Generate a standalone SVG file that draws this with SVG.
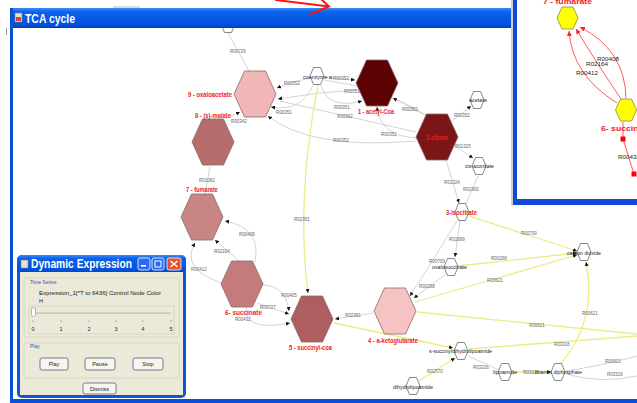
<svg xmlns="http://www.w3.org/2000/svg" width="637" height="403" viewBox="0 0 637 403">
  <defs>
    <style>
      .e{fill:none;stroke:#c9c9c9;stroke-width:.8}
      .y{fill:none;stroke:#eeeb86;stroke-width:1.3}
      .big{stroke:#8a6a6a;stroke-width:.8}
      .sm{fill:#fff;stroke:#555;stroke-width:.7}
      .nl{font-family:"Liberation Sans",Arial,sans-serif;font-weight:bold;font-size:8px;fill:#ee1c1c}
      .ml{font-family:"Liberation Sans",Arial,sans-serif;font-size:5.5px;fill:#222}
      .rl{font-family:"Liberation Sans",Arial,sans-serif;font-size:4.5px;fill:#666;text-anchor:middle}
      .il{font-family:"Liberation Sans",Arial,sans-serif;font-size:6px;fill:#222}
      .wt{font-family:"Liberation Sans",Arial,sans-serif;font-weight:bold;fill:#fff}
      .ui{font-family:"Liberation Sans",Arial,sans-serif;font-size:5.5px;fill:#222}
      .cap{font-family:"Liberation Sans",Arial,sans-serif;font-size:5px;fill:#3355bb}
      .grp{fill:none;stroke:#d3d0bd;stroke-width:.8}
      .btn{fill:#f6f5ef;stroke:#3c4f7c;stroke-width:.7}
      .rc{fill:none;stroke:#ff4848;stroke-width:.9}
    </style>
    <linearGradient id="tb" x1="0" y1="0" x2="0" y2="1">
      <stop offset="0" stop-color="#3d8af7"/>
      <stop offset=".2" stop-color="#0a61ea"/>
      <stop offset=".8" stop-color="#0053e0"/>
      <stop offset="1" stop-color="#0340b5"/>
    </linearGradient>
    <polygon id="hx" points="-10.5,-23 10.5,-23 21,0 10.5,23 -10.5,23 -21,0"/>
    <polygon id="hs" points="-3.5,-8.5 3.5,-8.5 7,0 3.5,8.5 -3.5,8.5 -7,0"/>
    <polygon id="hy" points="-5.5,-11 5.5,-11 10.5,0 5.5,11 -5.5,11 -10.5,0"/>
    <marker id="ar" viewBox="0 0 6 6" refX="6" refY="3" markerWidth="4" markerHeight="4" orient="auto" markerUnits="userSpaceOnUse">
      <path d="M0,0L6,3L0,6z" fill="#111"/>
    </marker>
    <marker id="rar" viewBox="0 0 6 6" refX="6" refY="3" markerWidth="5" markerHeight="5" orient="auto" markerUnits="userSpaceOnUse">
      <path d="M0,0L6,3L0,6z" fill="#ff2020"/>
    </marker>
    <clipPath id="cv"><rect x="13" y="27" width="624" height="372"/></clipPath>
    <clipPath id="ic"><rect x="517" y="0" width="120" height="199"/></clipPath>
  </defs>

  <!-- page background -->
  <rect width="637" height="403" fill="#fff"/>
  <rect x="113" y="6" width="27" height="2" fill="#d6dbe6"/>
  <rect x="6" y="28" width="1" height="7" fill="#999"/>

  <!-- TCA cycle network -->
  <g clip-path="url(#cv)">
    <g id="connectors">
      <!-- gray reaction edges -->
      <path class="e" d="M228,33 L249,71"/>
      <path class="e" d="M311,78 Q295,80 277,88" marker-end="url(#ar)"/>
      <path class="e" d="M325,77 L355,80" marker-end="url(#ar)"/>
      <path class="e" d="M324,80 Q385,88 428,116"/>
      <path class="e" d="M357,90 Q318,92 278,99" marker-end="url(#ar)"/>
      <path class="e" d="M416,132 L280,101"/>
      <path class="e" d="M313,85 Q302,112 271,107" marker-end="url(#ar)"/>
      <path class="e" d="M416,141 Q310,150 268,116" marker-end="url(#ar)"/>
      <path class="e" d="M321,85 Q328,110 362,101" marker-end="url(#ar)"/>
      <path class="e" d="M426,116 L393,98" marker-end="url(#ar)"/>
      <path class="e" d="M416,138 Q380,136 377,107" marker-end="url(#ar)"/>
      <path class="e" d="M452,121 L471,106" marker-end="url(#ar)"/>
      <path class="e" d="M455,146 L473,158" marker-end="url(#ar)"/>
      <path class="e" d="M446,160 L459,203" marker-end="url(#ar)"/>
      <path class="e" d="M478,176 L466,204"/>
      <path class="e" d="M460,221 L455,257" marker-end="url(#ar)"/>
      <path class="e" d="M457,221 Q432,262 410,296" marker-end="url(#ar)"/>
      <path class="e" d="M446,274 L414,298" marker-end="url(#ar)"/>
      <path class="e" d="M225,119 L240,112" marker-end="url(#ar)"/>
      <path class="e" d="M205,194 L210,166"/>
      <path class="e" d="M255,262 Q262,228 225,221" marker-end="url(#ar)"/>
      <path class="e" d="M240,262 L215,240" marker-end="url(#ar)"/>
      <path class="e" d="M221,283 Q180,268 195,243" marker-end="url(#ar)"/>
      <path class="e" d="M263,285 Q286,286 289,311" marker-end="url(#ar)"/>
      <path class="e" d="M257,303 L289,314" marker-end="url(#ar)"/>
      <path class="e" d="M246,307 Q244,332 290,323" marker-end="url(#ar)"/>
      <path class="e" d="M373,313 L335,319" marker-end="url(#ar)"/>
      <path class="e" d="M468,356 L499,370"/>
      <path class="e" d="M566,371 Q600,366 637,356"/>
      <path class="e" d="M566,374 Q600,384 637,376"/>
      <!-- yellow reaction edges -->
      <path class="y" d="M318,85 Q296,200 308,293" marker-end="url(#ar)"/>
      <path class="y" d="M469,216 L577,251" marker-end="url(#ar)"/>
      <path class="y" d="M458,266 L577,253" marker-end="url(#ar)"/>
      <path class="y" d="M415,302 L577,255" marker-end="url(#ar)"/>
      <path class="y" d="M417,312 L637,334"/>
      <path class="y" d="M560,365 Q598,320 586,262" marker-end="url(#ar)"/>
      <path class="y" d="M334,323 L453,348" marker-end="url(#ar)"/>
      <path class="y" d="M469,349 L637,336"/>
      <path class="y" d="M419,381 L455,358" marker-end="url(#ar)"/>
      <path class="y" d="M512,372 L551,372" marker-end="url(#ar)"/>
      <!-- reaction ids -->
      <text class="rl" x="238" y="53">R00726</text>
      <text class="rl" x="292" y="85">R00352</text>
      <text class="rl" x="341" y="80">R00352</text>
      <text class="rl" x="352" y="93">R00351</text>
      <text class="rl" x="342" y="109">R00351</text>
      <text class="rl" x="345" y="118">R00362</text>
      <text class="rl" x="284" y="114">R00351</text>
      <text class="rl" x="239" y="123">R00342</text>
      <text class="rl" x="341" y="142">R00352</text>
      <text class="rl" x="410" y="111">R00352</text>
      <text class="rl" x="389" y="136">R00351</text>
      <text class="rl" x="462" y="117">R00352</text>
      <text class="rl" x="463" y="148">R01325</text>
      <text class="rl" x="452" y="184">R01324</text>
      <text class="rl" x="471" y="191">R01900</text>
      <text class="rl" x="207" y="182">R01082</text>
      <text class="rl" x="247" y="236">R00408</text>
      <text class="rl" x="222" y="253">R02164</text>
      <text class="rl" x="199" y="271">R00412</text>
      <text class="rl" x="302" y="221">R02361</text>
      <text class="rl" x="289" y="297">R00405</text>
      <text class="rl" x="268" y="309">R00727</text>
      <text class="rl" x="243" y="321">R00432</text>
      <text class="rl" x="353" y="317">R02361</text>
      <text class="rl" x="529" y="235">R00709</text>
      <text class="rl" x="457" y="241">R01899</text>
      <text class="rl" x="437" y="263">R00709</text>
      <text class="rl" x="499" y="260">R00268</text>
      <text class="rl" x="495" y="282">R00621</text>
      <text class="rl" x="427" y="288">R00268</text>
      <text class="rl" x="537" y="327">R00621</text>
      <text class="rl" x="590" y="315">R00621</text>
      <text class="rl" x="562" y="346">R03316</text>
      <text class="rl" x="435" y="373">R02570</text>
      <text class="rl" x="481" y="369">R03316</text>
      <text class="rl" x="531" y="374">R03316</text>
      <text class="rl" x="613" y="363">R00621</text>
      <text class="rl" x="615" y="376">R03316</text>
    </g>

    <!-- metabolites -->
    <g id="n-oxaloacetate-top"><use href="#hs" class="sm" x="228" y="24"/></g>
    <g id="n-coenzyme-a"><use href="#hs" class="sm" x="317" y="76"/><text class="ml" x="303" y="79" textLength="29" lengthAdjust="spacingAndGlyphs">coenzyme a</text></g>
    <g id="n-acetate"><use href="#hs" class="sm" x="477" y="100"/><text class="ml" x="469" y="102" textLength="18" lengthAdjust="spacingAndGlyphs">acetate</text></g>
    <g id="n-cis-aconitate"><use href="#hs" class="sm" x="479" y="166"/><text class="ml" x="465" y="168" textLength="29" lengthAdjust="spacingAndGlyphs">cis-aconitate</text></g>
    <g id="n-isocitrate-sm"><use href="#hs" class="sm" x="462" y="212"/></g>
    <g id="n-oxalosuccinate"><use href="#hs" class="sm" x="451" y="267"/><text class="ml" x="432" y="269" textLength="35" lengthAdjust="spacingAndGlyphs">oxalosuccinate</text></g>
    <g id="n-carbon-dioxide"><use href="#hs" class="sm" x="584" y="252"/><text class="ml" x="567" y="255" textLength="34" lengthAdjust="spacingAndGlyphs">carbon dioxide</text></g>
    <g id="n-s-succinyldihydrolipoamide"><use href="#hs" class="sm" x="461" y="351"/><text class="ml" x="429" y="353" textLength="63" lengthAdjust="spacingAndGlyphs">s-succinyldihydrolipoamide</text></g>
    <g id="n-lipoamide"><use href="#hs" class="sm" x="505" y="372"/><text class="ml" x="493" y="374" textLength="24" lengthAdjust="spacingAndGlyphs">lipoamide</text></g>
    <g id="n-thiamin-diphosphate"><use href="#hs" class="sm" x="558" y="372"/><text class="ml" x="535" y="374" textLength="47" lengthAdjust="spacingAndGlyphs">thiamin diphosphate</text></g>
    <g id="n-dihydrolipoamide"><use href="#hs" class="sm" x="413" y="386"/><text class="ml" x="393" y="389" textLength="40" lengthAdjust="spacingAndGlyphs">dihydrolipoamide</text></g>

    <g id="n-oxaloacetate"><use href="#hx" class="big" x="255" y="94" fill="#f1b6b6"/><text class="nl" x="188" y="97" textLength="44" lengthAdjust="spacingAndGlyphs">9 - oxaloacetate</text></g>
    <g id="n-acetyl-coa"><use href="#hx" class="big" x="377" y="83" fill="#5c0202"/><text class="nl" x="358" y="114" textLength="36" lengthAdjust="spacingAndGlyphs">1 - acetyl-Coa</text></g>
    <g id="n-citrate"><use href="#hx" class="big" x="437" y="137" fill="#7b1616"/><text class="nl" x="426" y="140" textLength="22" lengthAdjust="spacingAndGlyphs">2-citrate</text></g>
    <g id="n-malate"><use href="#hx" class="big" x="213" y="142" fill="#b66d6d"/><text class="nl" x="195" y="118" textLength="36" lengthAdjust="spacingAndGlyphs">8 - (s)-malate</text></g>
    <g id="n-fumarate"><use href="#hx" class="big" x="202" y="217" fill="#c88585"/><text class="nl" x="186" y="192" textLength="32" lengthAdjust="spacingAndGlyphs">7 - fumarate</text></g>
    <g id="n-succinate"><use href="#hx" class="big" x="242" y="284" fill="#c47b7b"/><text class="nl" x="225" y="315" textLength="37" lengthAdjust="spacingAndGlyphs">6- succinate</text></g>
    <g id="n-succinyl-coa"><use href="#hx" class="big" x="312" y="319" fill="#ae5e5e"/><text class="nl" x="289" y="350" textLength="43" lengthAdjust="spacingAndGlyphs">5 - succinyl-coa</text></g>
    <g id="n-ketoglutarate"><use href="#hx" class="big" x="395" y="311" fill="#f6c3c3"/><text class="nl" x="368" y="343" textLength="50" lengthAdjust="spacingAndGlyphs">4 - a-ketoglutarate</text></g>
    <g id="n-isocitrate"><text class="nl" x="446" y="215" textLength="31" lengthAdjust="spacingAndGlyphs">3-isocitrate</text></g>
  </g>

  <!-- main window frame -->
  <g id="window-tca">
    <rect x="10" y="8" width="503" height="20" fill="url(#tb)"/>
    <rect x="10" y="8" width="3" height="394" fill="#0b50d8"/>
    <rect x="10" y="399" width="627" height="4" fill="#0b50d8"/>
    <rect x="15" y="13" width="7" height="9" fill="#e8e0d0" stroke="#8a7a60" stroke-width=".6"/>
    <rect x="16" y="17" width="5" height="4" fill="#c05030"/>
    <text class="wt" x="25" y="23" font-size="13" textLength="50" lengthAdjust="spacingAndGlyphs">TCA cycle</text>
  </g>

  <!-- Dynamic Expression dialog -->
  <g id="window-dynamic-expression">
    <rect x="17" y="255" width="169" height="143" rx="5" fill="#0d55dd"/>
    <rect x="17" y="255" width="169" height="18" rx="5" fill="url(#tb)"/>
    <rect x="20" y="272" width="163" height="123" fill="#ece9d8"/>
    <rect x="21" y="260" width="7" height="8" fill="#e8e0d0" stroke="#8a7a60" stroke-width=".5"/>
    <text class="wt" x="31" y="268" font-size="12.5" textLength="101" lengthAdjust="spacingAndGlyphs">Dynamic Expression</text>
    <rect x="138" y="258" width="12" height="12" rx="2" fill="#2a6cf0" stroke="#fff" stroke-width=".8"/>
    <rect x="141" y="265" width="5" height="1.6" fill="#fff"/>
    <rect x="152" y="258" width="12" height="12" rx="2" fill="#2a6cf0" stroke="#fff" stroke-width=".8"/>
    <rect x="155" y="261" width="6" height="6" fill="none" stroke="#fff" stroke-width="1"/>
    <rect x="167" y="258" width="14" height="12" rx="2" fill="#e0532c" stroke="#fff" stroke-width=".8"/>
    <path d="M170.5,261 L177.5,267 M177.5,261 L170.5,267" stroke="#fff" stroke-width="1.6"/>

    <rect class="grp" x="24" y="278" width="155" height="59" rx="2"/>
    <text class="cap" x="30" y="284">Time Series</text>
    <text class="ui" x="39" y="295" textLength="122" lengthAdjust="spacingAndGlyphs">Expression_1[*T to 6436] Control Node Color</text>
    <text class="ui" x="39" y="303">H</text>
    <rect class="grp" x="29" y="306" width="145" height="28"/>
    <rect x="33" y="312.5" width="138" height="1.2" fill="#bdbbae"/>
    <path d="M31.5,308 h4 v7 l-2,2 l-2,-2 z" fill="#fff" stroke="#888" stroke-width=".6"/>
    <g stroke="#888" stroke-width=".6">
      <path d="M33,320 v2 M61,320 v2 M89,320 v2 M116,320 v2 M143,320 v2 M171,320 v2"/>
    </g>
    <g class="ui" text-anchor="middle">
      <text x="33" y="331">0</text><text x="61" y="331">1</text><text x="89" y="331">2</text>
      <text x="116" y="331">3</text><text x="143" y="331">4</text><text x="171" y="331">5</text>
    </g>
    <rect class="grp" x="24" y="343" width="155" height="35" rx="2"/>
    <text class="cap" x="30" y="348">Play</text>
    <rect class="btn" x="40" y="358" width="28" height="12" rx="2"/>
    <rect class="btn" x="85" y="358" width="30" height="12" rx="2"/>
    <rect class="btn" x="133" y="358" width="30" height="12" rx="2"/>
    <rect class="btn" x="83" y="383" width="33" height="11" rx="2"/>
    <g class="ui" text-anchor="middle">
      <text x="54" y="366">Play</text>
      <text x="100" y="366">Pause</text>
      <text x="148" y="366">Stop</text>
      <text x="99.5" y="390.5">Dismiss</text>
    </g>
  </g>

  <!-- zoomed inset -->
  <g id="inset">
    <rect x="511" y="0" width="2" height="206" fill="#cfcfcf"/>
    <rect x="513" y="0" width="124" height="205" fill="#1048d8"/>
    <rect x="517" y="0" width="120" height="199" fill="#fff"/>
    <g clip-path="url(#ic)">
      <g id="inset-connectors">
        <path class="rc" d="M617,103 Q572,75 569,31" marker-end="url(#rar)"/>
        <path class="rc" d="M621,99 Q596,62 576,29" marker-end="url(#rar)"/>
        <path class="rc" d="M626,98 Q625,50 580,27" marker-end="url(#rar)"/>
        <path class="rc" d="M623,122 L623,139 L634,174"/>
        <text class="il" x="597" y="61" textLength="22" lengthAdjust="spacingAndGlyphs">R00408</text>
        <text class="il" x="586" y="66" textLength="22" lengthAdjust="spacingAndGlyphs">R02164</text>
        <text class="il" x="576" y="75" textLength="22" lengthAdjust="spacingAndGlyphs">R00412</text>
        <text class="il" x="618" y="159" textLength="22" lengthAdjust="spacingAndGlyphs">R00432</text>
      </g>
      <g id="inset-fumarate">
        <use href="#hy" x="567.5" y="18" fill="#ffff00" stroke="#8a8a3a" stroke-width=".8"/>
        <text class="nl" x="543" y="4" font-size="10" textLength="49" lengthAdjust="spacingAndGlyphs">7 - fumarate</text>
      </g>
      <g id="inset-succinate">
        <use href="#hy" x="626" y="110" fill="#ffff00" stroke="#8a8a3a" stroke-width=".8"/>
        <text class="nl" x="601" y="131" font-size="10" textLength="50" lengthAdjust="spacingAndGlyphs">6- succinate</text>
      </g>
      <rect x="620.5" y="136.5" width="5" height="5" fill="#ff0000"/>
      <rect x="631.5" y="171.5" width="5" height="5" fill="#ff0000"/>
    </g>
  </g>

  <!-- pointer arrow -->
  <g id="pointer" stroke="#ff1414" stroke-width="2" fill="none" stroke-linecap="round">
    <path d="M276,0 L329,6.5 M321,-1 L329,6.5 L311,14"/>
  </g>
</svg>
